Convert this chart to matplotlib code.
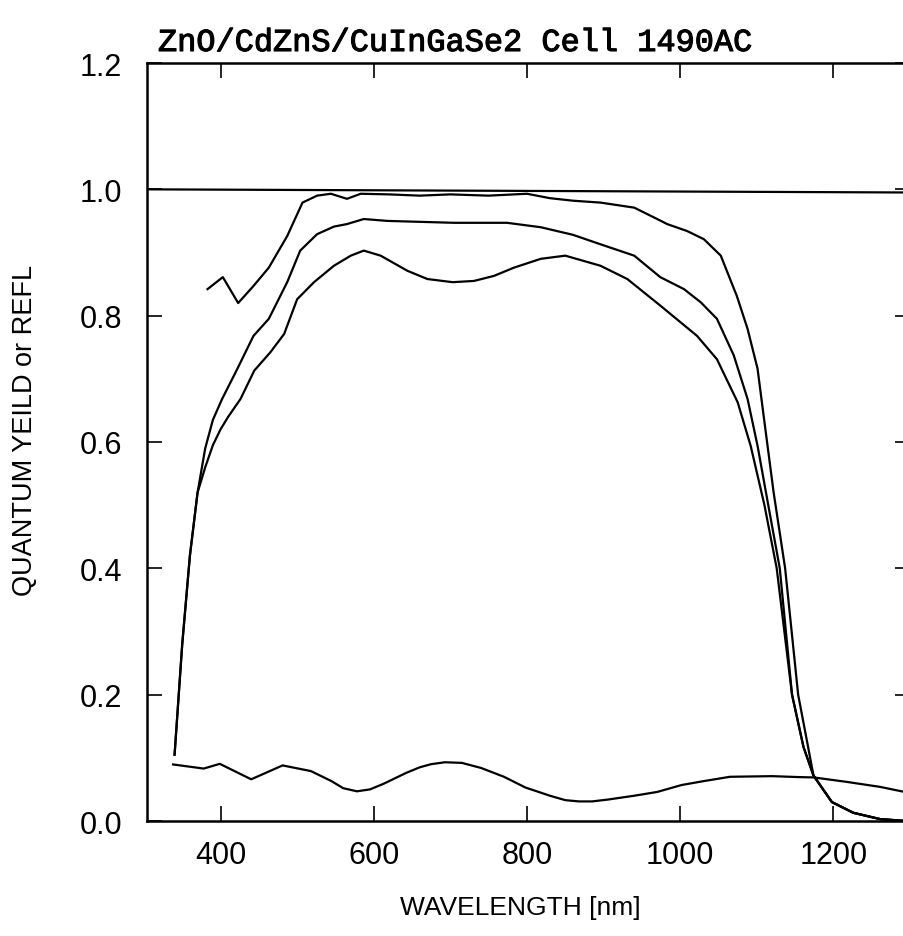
import numpy as np
import matplotlib.pyplot as plt
import matplotlib.patheffects as pe

# wavelength [nm] and values
wl_top = [383, 403, 423, 443, 463, 487, 507, 526, 544, 565, 583, 620, 660, 700, 750,
          800, 830, 860, 896, 940, 970, 983, 1009, 1031, 1053, 1074, 1088, 1101, 1109,
          1122, 1137, 1154, 1167, 1174, 1198, 1226, 1261, 1295]
qe_top = [0.842, 0.861, 0.820, 0.847, 0.876, 0.926, 0.979, 0.990, 0.993, 0.985, 0.993,
          0.992, 0.990, 0.992, 0.990, 0.993, 0.986, 0.982, 0.979, 0.971, 0.953, 0.945,
          0.934, 0.921, 0.895, 0.831, 0.779, 0.716, 0.641, 0.52, 0.40, 0.20, 0.117,
          0.072, 0.030, 0.013, 0.003, 0.0]

wl_mid = [340, 350, 360, 370, 380, 390, 402, 422, 443, 463, 487, 504, 526, 548, 565,
          587, 618, 705, 774, 818, 860, 896, 940, 974, 1005, 1027, 1048, 1070, 1088,
          1101, 1115, 1130, 1146, 1161, 1174, 1198, 1226, 1261, 1295]
qe_mid = [0.105, 0.28, 0.42, 0.52, 0.59, 0.635, 0.668, 0.716, 0.768, 0.795, 0.853,
          0.903, 0.929, 0.941, 0.945, 0.953, 0.950, 0.947, 0.947, 0.940, 0.928, 0.913,
          0.895, 0.861, 0.842, 0.821, 0.795, 0.737, 0.668, 0.594, 0.50, 0.40, 0.20,
          0.117, 0.072, 0.030, 0.013, 0.003, 0.0]

wl_low = [340, 350, 360, 370, 380, 390, 400, 410, 426, 444, 465, 483, 500, 522, 548,
          570, 587, 609, 644, 670, 703, 731, 757, 783, 818, 850, 896, 931, 974, 1022,
          1048, 1075, 1092, 1110, 1126, 1146, 1161, 1174, 1198, 1226, 1261, 1295]
qe_low = [0.105, 0.28, 0.42, 0.52, 0.56, 0.595, 0.62, 0.64, 0.668, 0.713, 0.742, 0.771,
          0.826, 0.853, 0.879, 0.895, 0.903, 0.895, 0.871, 0.858, 0.853, 0.855, 0.863,
          0.876, 0.890, 0.895, 0.879, 0.858, 0.816, 0.768, 0.731, 0.663, 0.594, 0.50,
          0.40, 0.20, 0.117, 0.072, 0.030, 0.013, 0.003, 0.0]

wl_refl = [338, 378, 399, 440, 481, 518, 545, 560, 578, 595, 613, 642, 660, 675, 693,
           715, 740, 770, 798, 830, 850, 868, 885, 906, 940, 970, 1002, 1030, 1065,
           1120, 1155, 1174, 1217, 1261, 1293]
refl = [0.0895, 0.083, 0.0905, 0.066, 0.088, 0.079, 0.063, 0.052, 0.047, 0.050, 0.059,
        0.076, 0.085, 0.090, 0.093, 0.092, 0.084, 0.070, 0.053, 0.040, 0.033, 0.031,
        0.031, 0.034, 0.040, 0.046, 0.057, 0.063, 0.070, 0.071, 0.0695, 0.069, 0.062,
        0.054, 0.046]

wl_ref = [300, 1300]
ref_line = [1.0, 0.995]

xticks = [400, 600, 800, 1000, 1200]
yticks = [0.0, 0.2, 0.4, 0.6, 0.8, 1.0, 1.2]

plt.rcParams['font.family'] = ['Liberation Sans', 'DejaVu Sans']

fig = plt.figure(figsize=(9.04, 9.37), dpi=100)
ax = fig.add_axes([147 / 904, 1 - 822 / 937, 763 / 904, 758 / 937])

lw = 1.6
ax.plot(wl_ref, ref_line, color='black', lw=lw)
ax.plot(wl_top, qe_top, color='black', lw=lw)
ax.plot(wl_mid, qe_mid, color='black', lw=lw)
ax.plot(wl_low, qe_low, color='black', lw=lw)
ax.plot(wl_refl, refl, color='black', lw=lw)

ax.set_xlim(304, 1300)
ax.set_ylim(0, 1.2)
ax.set_xticks(xticks)
ax.set_yticks(yticks)
ax.set_yticklabels(['%.1f' % v for v in yticks])

for s in ax.spines.values():
    s.set_linewidth(1.8)

ax.tick_params(direction='in', length=11, width=1.2, top=True, right=True,
               labelsize=22, colors='black')
ax.tick_params(axis='x', pad=14)
ax.tick_params(axis='y', pad=18)

fig.text(520 / 904, 1 - 908 / 937, 'WAVELENGTH [nm]', fontsize=19,
         ha='center', va='center')
fig.text(25 / 904, 1 - 430 / 937, 'QUANTUM YEILD or REFL', fontsize=19.5,
         rotation=90, ha='center', va='center')
# slightly thickened typewriter title, like the scanned original
fig.text(158 / 904, 1 - 52 / 937, 'ZnO/CdZnS/CuInGaSe2 Cell 1490AC',
         fontsize=23, family=['Liberation Mono', 'DejaVu Sans Mono'],
         ha='left', va='baseline',
         path_effects=[pe.withStroke(linewidth=0.8, foreground='black')])

fig.savefig('out.png', dpi=100)
